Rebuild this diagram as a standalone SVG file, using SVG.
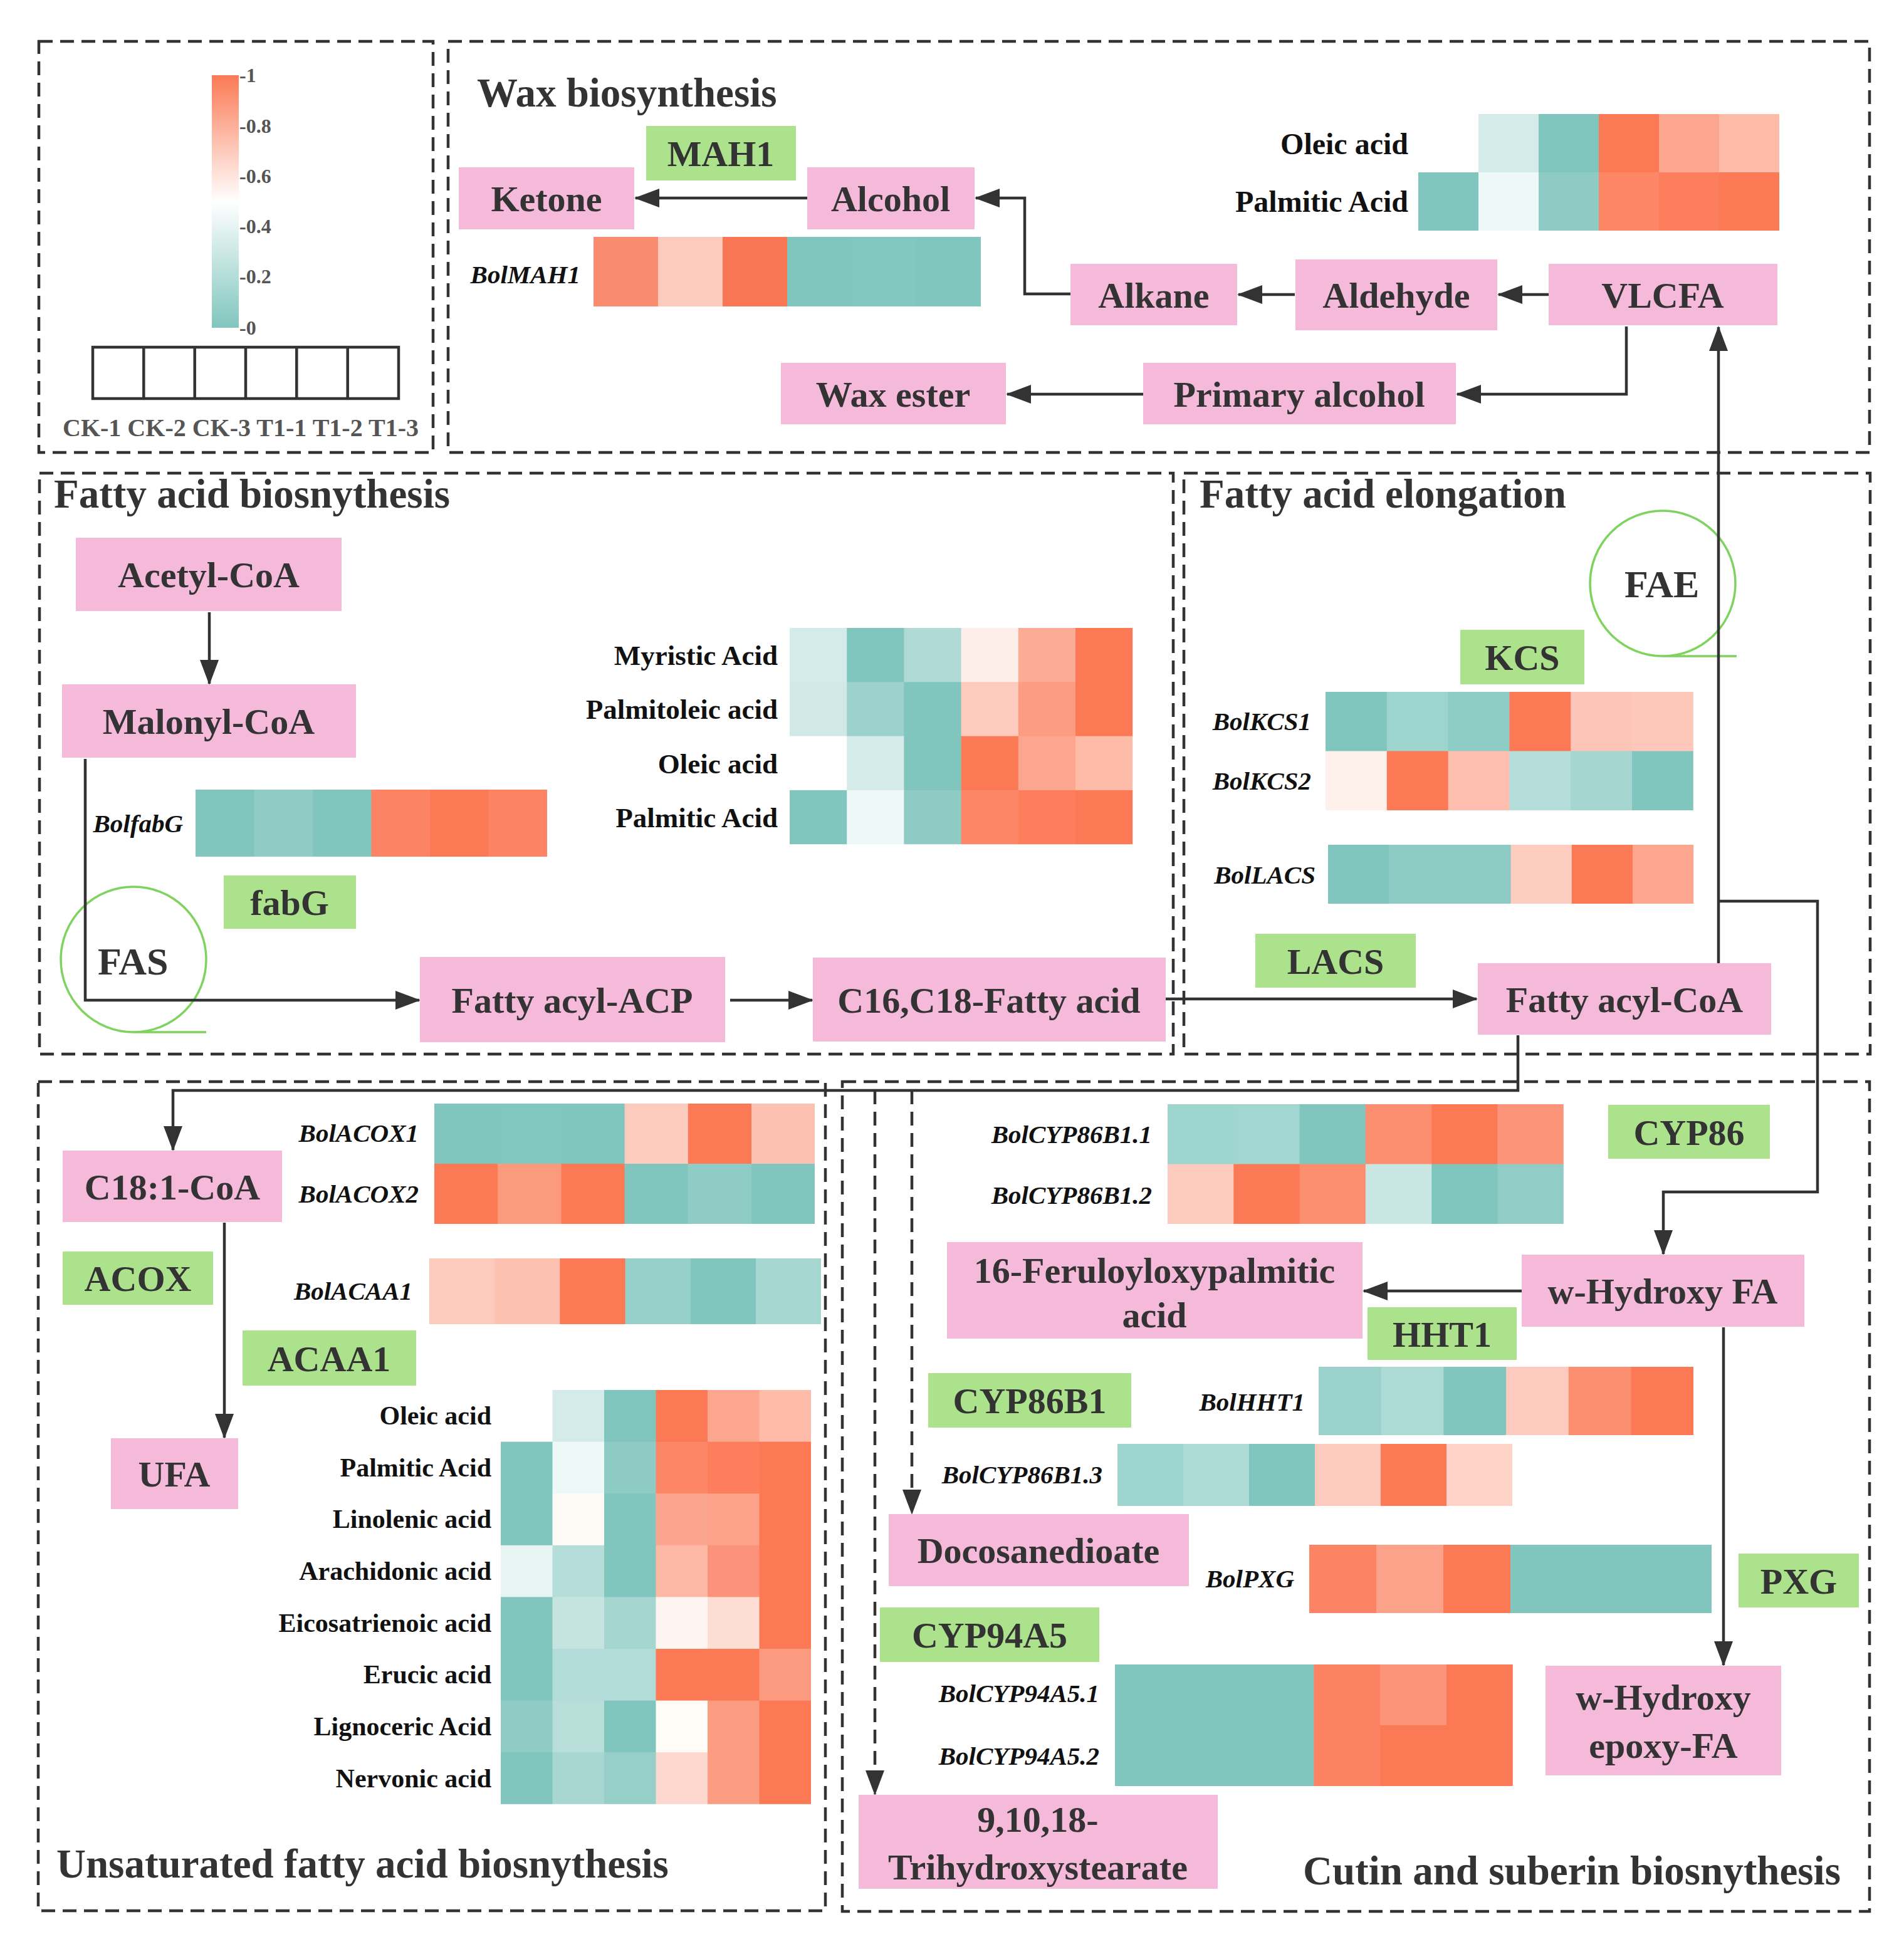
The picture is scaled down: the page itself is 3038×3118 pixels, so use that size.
<svg xmlns="http://www.w3.org/2000/svg" width="3038" height="3118" viewBox="0 0 3038 3118">
<defs>
<linearGradient id="grad" x1="0" y1="0" x2="0" y2="1">
<stop offset="0" stop-color="#FB7A55"/>
<stop offset="0.5" stop-color="#FFFFFF"/>
<stop offset="1" stop-color="#80C6BE"/>
</linearGradient>
<marker id="ah" viewBox="0 0 40 30" refX="38" refY="15" markerWidth="40" markerHeight="30" markerUnits="userSpaceOnUse" orient="auto">
<path d="M0,0 L40,15 L0,30 z" fill="#333"/>
</marker>
<style>
.nd{fill:#F5B9DA}
.gn{fill:#ADE28D}
.t{font-family:"Liberation Serif","Times New Roman",serif;font-weight:bold;font-size:58px;fill:#333;text-anchor:middle}
.cx{font-family:"Liberation Serif","Times New Roman",serif;font-weight:bold;font-size:62px;fill:#333;text-anchor:start}
.ttl{font-family:"Liberation Serif","Times New Roman",serif;font-weight:bold;font-size:65px;fill:#333}
.gl{font-family:"Liberation Serif","Times New Roman",serif;font-style:italic;font-weight:bold;font-size:41px;fill:#111;text-anchor:end}
.ml{font-family:"Liberation Serif","Times New Roman",serif;font-weight:bold;fill:#111;text-anchor:end}
.lg{font-family:"Liberation Serif","Times New Roman",serif;font-weight:bold;fill:#555}
.box{fill:none;stroke:#333;stroke-width:4.5;stroke-dasharray:22 12}
.c{fill:none;stroke:#333;stroke-width:4.5}
.cd{fill:none;stroke:#333;stroke-width:4.5;stroke-dasharray:22 12}
.ring{fill:none;stroke:#7ED35E;stroke-width:3.5}
.a{fill:#80C6BE}
.o{fill:#FB7A55}
</style>
</defs>
<rect width="3038" height="3118" fill="#FFFFFF"/>

<!-- pathway boxes -->
<g id="panels">
<rect class="box" x="62" y="66" width="629" height="656"/>
<rect class="box" x="715" y="66" width="2268" height="656"/>
<rect class="box" x="63" y="755" width="1809" height="927"/>
<rect class="box" x="1889" y="755" width="1095" height="927"/>
<rect class="box" x="61" y="1726" width="1256" height="1323"/>
<rect class="box" x="1344" y="1726" width="1639" height="1324"/>
</g>

<g id="titles">
<text class="ttl" x="761" y="170">Wax biosynthesis</text>
<text class="ttl" x="86" y="810">Fatty acid biosnythesis</text>
<text class="ttl" x="1914" y="810">Fatty acid elongation</text>
<text class="ttl" x="90" y="2996">Unsaturated fatty acid biosnythesis</text>
<text class="ttl" x="2079" y="3007">Cutin and suberin biosnythesis</text>
</g>

<!-- legend -->
<g id="legend">
<rect x="338" y="120" width="43" height="403" fill="url(#grad)"/>
<text class="lg" font-size="32" x="382" y="131">-1</text>
<text class="lg" font-size="32" x="382" y="212">-0.8</text>
<text class="lg" font-size="32" x="382" y="292">-0.6</text>
<text class="lg" font-size="32" x="382" y="372">-0.4</text>
<text class="lg" font-size="32" x="382" y="452">-0.2</text>
<text class="lg" font-size="32" x="382" y="534">-0</text>
<g fill="none" stroke="#333" stroke-width="4.5">
<rect x="148" y="554" width="488" height="82"/>
<line x1="229.3" y1="554" x2="229.3" y2="636"/>
<line x1="310.7" y1="554" x2="310.7" y2="636"/>
<line x1="392" y1="554" x2="392" y2="636"/>
<line x1="473.3" y1="554" x2="473.3" y2="636"/>
<line x1="554.7" y1="554" x2="554.7" y2="636"/>
</g>
<text class="lg" font-size="40" x="384" y="696" text-anchor="middle" textLength="568" lengthAdjust="spacingAndGlyphs">CK-1 CK-2 CK-3 T1-1 T1-2 T1-3</text>
</g>

<!-- heatmaps -->
<g id="hm-wax" transform="translate(2263,182)">
<rect x="0" y="0" width="97" height="94" fill="#FFFFFF"/>
<rect x="96" y="0" width="97" height="94" fill="#D5EBE9"/>
<rect x="192" y="0" width="97" height="94" class="a"/>
<rect x="288" y="0" width="97" height="94" class="o"/>
<rect x="384" y="0" width="97" height="94" fill="#FCA68F"/>
<rect x="480" y="0" width="96" height="94" fill="#FDBBA8"/>
<rect x="0" y="93" width="97" height="93" class="a"/>
<rect x="96" y="93" width="97" height="93" fill="#EEF8F7"/>
<rect x="192" y="93" width="97" height="93" fill="#8DCBC4"/>
<rect x="288" y="93" width="97" height="93" fill="#FC8665"/>
<rect x="384" y="93" width="97" height="93" fill="#FC7E5D"/>
<rect x="480" y="93" width="96" height="93" class="o"/>
</g>
<text class="ml" font-size="48" x="2247" y="246">Oleic acid</text>
<text class="ml" font-size="48" x="2247" y="338">Palmitic Acid</text>

<g id="hm-mah1" transform="translate(947,378)">
<rect x="0" y="0" width="104" height="111" fill="#F98B6F"/>
<rect x="103" y="0" width="104" height="111" fill="#FDCABE"/>
<rect x="206" y="0" width="104" height="111" fill="#F97654"/>
<rect x="309" y="0" width="104" height="111" class="a"/>
<rect x="412" y="0" width="104" height="111" fill="#82C8C0"/>
<rect x="515" y="0" width="103" height="111" class="a"/>
</g>
<text class="gl" x="926" y="452">BolMAH1</text>

<g id="hm-fabg" transform="translate(312,1260)">
<rect x="0" y="0" width="94" height="107" class="a"/>
<rect x="93.5" y="0" width="94" height="107" fill="#8FCCC5"/>
<rect x="187" y="0" width="94" height="107" class="a"/>
<rect x="280.5" y="0" width="94" height="107" fill="#FC8465"/>
<rect x="374" y="0" width="94" height="107" class="o"/>
<rect x="467.5" y="0" width="93.5" height="107" fill="#FC8465"/>
</g>
<text class="gl" x="292" y="1328">BolfabG</text>

<g id="hm-fa" transform="translate(1260,1002)">
<rect x="0" y="0" width="92" height="87" fill="#D5EBE9"/>
<rect x="91.2" y="0" width="92" height="87" class="a"/>
<rect x="182.4" y="0" width="92" height="87" fill="#B0DAD5"/>
<rect x="273.6" y="0" width="92" height="87" fill="#FEEEE9"/>
<rect x="364.8" y="0" width="92" height="87" fill="#FCAB95"/>
<rect x="456" y="0" width="91.2" height="87" class="o"/>
<rect x="0" y="86.3" width="92" height="87" fill="#D0E9E6"/>
<rect x="91.2" y="86.3" width="92" height="87" fill="#9DD1CB"/>
<rect x="182.4" y="86.3" width="92" height="87" class="a"/>
<rect x="273.6" y="86.3" width="92" height="87" fill="#FDCBBE"/>
<rect x="364.8" y="86.3" width="92" height="87" fill="#FC9C80"/>
<rect x="456" y="86.3" width="91.2" height="87" class="o"/>
<rect x="0" y="172.6" width="92" height="87" fill="#FFFFFF"/>
<rect x="91.2" y="172.6" width="92" height="87" fill="#D5EBE9"/>
<rect x="182.4" y="172.6" width="92" height="87" class="a"/>
<rect x="273.6" y="172.6" width="92" height="87" class="o"/>
<rect x="364.8" y="172.6" width="92" height="87" fill="#FCA68F"/>
<rect x="456" y="172.6" width="91.2" height="87" fill="#FDBBA8"/>
<rect x="0" y="258.9" width="92" height="86.3" class="a"/>
<rect x="91.2" y="258.9" width="92" height="86.3" fill="#EEF8F7"/>
<rect x="182.4" y="258.9" width="92" height="86.3" fill="#8DCBC4"/>
<rect x="273.6" y="258.9" width="92" height="86.3" fill="#FC8665"/>
<rect x="364.8" y="258.9" width="92" height="86.3" fill="#FC7E5D"/>
<rect x="456" y="258.9" width="91.2" height="86.3" class="o"/>
</g>
<text class="ml" font-size="45" x="1241" y="1061">Myristic Acid</text>
<text class="ml" font-size="45" x="1241" y="1147">Palmitoleic acid</text>
<text class="ml" font-size="45" x="1241" y="1234">Oleic acid</text>
<text class="ml" font-size="45" x="1241" y="1320">Palmitic Acid</text>

<g id="hm-kcs" transform="translate(2115,1104)">
<rect x="0" y="0" width="98.5" height="95" class="a"/>
<rect x="97.8" y="0" width="98.5" height="95" fill="#9DD4CD"/>
<rect x="195.6" y="0" width="98.5" height="95" fill="#8ECDC6"/>
<rect x="293.4" y="0" width="98.5" height="95" class="o"/>
<rect x="391.2" y="0" width="98.5" height="95" fill="#FDC5B7"/>
<rect x="489" y="0" width="97.8" height="95" fill="#FDC8BA"/>
<rect x="0" y="94.5" width="98.5" height="94.5" fill="#FEF0EB"/>
<rect x="97.8" y="94.5" width="98.5" height="94.5" class="o"/>
<rect x="195.6" y="94.5" width="98.5" height="94.5" fill="#FDBEAF"/>
<rect x="293.4" y="94.5" width="98.5" height="94.5" fill="#B5DDD9"/>
<rect x="391.2" y="94.5" width="98.5" height="94.5" fill="#A5D6D0"/>
<rect x="489" y="94.5" width="97.8" height="94.5" class="a"/>
</g>
<text class="gl" x="2092" y="1165">BolKCS1</text>
<text class="gl" x="2092" y="1260">BolKCS2</text>

<g id="hm-lacs" transform="translate(2119,1348)">
<rect x="0" y="0" width="98" height="94" class="a"/>
<rect x="97.2" y="0" width="98" height="94" fill="#8CCBC4"/>
<rect x="194.4" y="0" width="98" height="94" fill="#8CCBC4"/>
<rect x="291.6" y="0" width="98" height="94" fill="#FDCDC0"/>
<rect x="388.8" y="0" width="98" height="94" class="o"/>
<rect x="486" y="0" width="97.2" height="94" fill="#FCA690"/>
</g>
<text class="gl" x="2099" y="1410">BolLACS</text>

<g id="hm-acox" transform="translate(693,1761)">
<rect x="0" y="0" width="102" height="96.5" class="a"/>
<rect x="101.2" y="0" width="102" height="96.5" fill="#82C7BF"/>
<rect x="202.4" y="0" width="102" height="96.5" class="a"/>
<rect x="303.6" y="0" width="102" height="96.5" fill="#FDCBBE"/>
<rect x="404.8" y="0" width="102" height="96.5" class="o"/>
<rect x="506" y="0" width="101" height="96.5" fill="#FDC1B1"/>
<rect x="0" y="96" width="102" height="96" class="o"/>
<rect x="101.2" y="96" width="102" height="96" fill="#FC9A7E"/>
<rect x="202.4" y="96" width="102" height="96" class="o"/>
<rect x="303.6" y="96" width="102" height="96" class="a"/>
<rect x="404.8" y="96" width="102" height="96" fill="#8ECCC5"/>
<rect x="506" y="96" width="101" height="96" class="a"/>
</g>
<text class="gl" x="668" y="1822">BolACOX1</text>
<text class="gl" x="668" y="1919">BolACOX2</text>

<g id="hm-acaa1" transform="translate(685,2008)">
<rect x="0" y="0" width="105" height="105" fill="#FDCBBE"/>
<rect x="104.2" y="0" width="105" height="105" fill="#FDC1B1"/>
<rect x="208.4" y="0" width="105" height="105" class="o"/>
<rect x="312.6" y="0" width="105" height="105" fill="#97CFC9"/>
<rect x="416.8" y="0" width="105" height="105" class="a"/>
<rect x="521" y="0" width="104" height="105" fill="#A7D7D1"/>
</g>
<text class="gl" x="658" y="2074">BolACAA1</text>

<g id="hm-ufa" transform="translate(799,2218)">
<rect x="0" y="0" width="83.3" height="83.4" fill="#FFFFFF"/>
<rect x="82.5" y="0" width="83.3" height="83.4" fill="#D5EBE9"/>
<rect x="165" y="0" width="83.3" height="83.4" class="a"/>
<rect x="247.5" y="0" width="83.3" height="83.4" class="o"/>
<rect x="330" y="0" width="83.3" height="83.4" fill="#FCA68F"/>
<rect x="412.5" y="0" width="82.5" height="83.4" fill="#FDBBA8"/>
<rect x="0" y="82.6" width="83.3" height="83.4" class="a"/>
<rect x="82.5" y="82.6" width="83.3" height="83.4" fill="#EEF8F7"/>
<rect x="165" y="82.6" width="83.3" height="83.4" fill="#8DCBC4"/>
<rect x="247.5" y="82.6" width="83.3" height="83.4" fill="#FC8665"/>
<rect x="330" y="82.6" width="83.3" height="83.4" fill="#FC7E5D"/>
<rect x="412.5" y="82.6" width="82.5" height="83.4" class="o"/>
<rect x="0" y="165.2" width="83.3" height="83.4" class="a"/>
<rect x="82.5" y="165.2" width="83.3" height="83.4" fill="#FEFBF6"/>
<rect x="165" y="165.2" width="83.3" height="83.4" class="a"/>
<rect x="247.5" y="165.2" width="83.3" height="83.4" fill="#FCA58E"/>
<rect x="330" y="165.2" width="83.3" height="83.4" fill="#FCA28B"/>
<rect x="412.5" y="165.2" width="82.5" height="83.4" class="o"/>
<rect x="0" y="247.8" width="83.3" height="83.4" fill="#E6F4F2"/>
<rect x="82.5" y="247.8" width="83.3" height="83.4" fill="#B5DDD9"/>
<rect x="165" y="247.8" width="83.3" height="83.4" class="a"/>
<rect x="247.5" y="247.8" width="83.3" height="83.4" fill="#FDB8A6"/>
<rect x="330" y="247.8" width="83.3" height="83.4" fill="#FC9279"/>
<rect x="412.5" y="247.8" width="82.5" height="83.4" class="o"/>
<rect x="0" y="330.4" width="83.3" height="83.4" class="a"/>
<rect x="82.5" y="330.4" width="83.3" height="83.4" fill="#C5E4E0"/>
<rect x="165" y="330.4" width="83.3" height="83.4" fill="#A5D6D0"/>
<rect x="247.5" y="330.4" width="83.3" height="83.4" fill="#FEF5F1"/>
<rect x="330" y="330.4" width="83.3" height="83.4" fill="#FDDDD4"/>
<rect x="412.5" y="330.4" width="82.5" height="83.4" class="o"/>
<rect x="0" y="413" width="83.3" height="83.4" class="a"/>
<rect x="82.5" y="413" width="83.3" height="83.4" fill="#B2DCD7"/>
<rect x="165" y="413" width="83.3" height="83.4" fill="#B2DCD7"/>
<rect x="247.5" y="413" width="83.3" height="83.4" class="o"/>
<rect x="330" y="413" width="83.3" height="83.4" class="o"/>
<rect x="412.5" y="413" width="82.5" height="83.4" fill="#FC9A7F"/>
<rect x="0" y="495.6" width="83.3" height="83.4" fill="#8FCCC5"/>
<rect x="82.5" y="495.6" width="83.3" height="83.4" fill="#B8DEDA"/>
<rect x="165" y="495.6" width="83.3" height="83.4" class="a"/>
<rect x="247.5" y="495.6" width="83.3" height="83.4" fill="#FFFBF7"/>
<rect x="330" y="495.6" width="83.3" height="83.4" fill="#FC9C81"/>
<rect x="412.5" y="495.6" width="82.5" height="83.4" class="o"/>
<rect x="0" y="578.2" width="83.3" height="82.6" class="a"/>
<rect x="82.5" y="578.2" width="83.3" height="82.6" fill="#A8D7D2"/>
<rect x="165" y="578.2" width="83.3" height="82.6" fill="#96CFC8"/>
<rect x="247.5" y="578.2" width="83.3" height="82.6" fill="#FDD8CE"/>
<rect x="330" y="578.2" width="83.3" height="82.6" fill="#FC9C81"/>
<rect x="412.5" y="578.2" width="82.5" height="82.6" class="o"/>
</g>
<g id="ufa-labels">
<text class="ml" font-size="42" x="784" y="2273">Oleic acid</text>
<text class="ml" font-size="42" x="784" y="2356">Palmitic Acid</text>
<text class="ml" font-size="42" x="784" y="2438">Linolenic acid</text>
<text class="ml" font-size="42" x="784" y="2521">Arachidonic acid</text>
<text class="ml" font-size="42" x="784" y="2604">Eicosatrienoic acid</text>
<text class="ml" font-size="42" x="784" y="2686">Erucic acid</text>
<text class="ml" font-size="42" x="784" y="2769">Lignoceric Acid</text>
<text class="ml" font-size="42" x="784" y="2852">Nervonic acid</text>
</g>

<g id="hm-cyp86b1" transform="translate(1863,1762)">
<rect x="0" y="0" width="106" height="96" fill="#9DD4CD"/>
<rect x="105.3" y="0" width="106" height="96" fill="#A2D6D0"/>
<rect x="210.6" y="0" width="106" height="96" class="a"/>
<rect x="315.9" y="0" width="106" height="96" fill="#FC8E70"/>
<rect x="421.2" y="0" width="106" height="96" class="o"/>
<rect x="526.5" y="0" width="105.3" height="96" fill="#FC9479"/>
<rect x="0" y="95.5" width="106" height="95.5" fill="#FDCBBE"/>
<rect x="105.3" y="95.5" width="106" height="95.5" class="o"/>
<rect x="210.6" y="95.5" width="106" height="95.5" fill="#FC8E70"/>
<rect x="315.9" y="95.5" width="106" height="95.5" fill="#C9E6E2"/>
<rect x="421.2" y="95.5" width="106" height="95.5" class="a"/>
<rect x="526.5" y="95.5" width="105.3" height="95.5" fill="#91CDC6"/>
</g>
<text class="gl" x="1838" y="1824">BolCYP86B1.1</text>
<text class="gl" x="1838" y="1921">BolCYP86B1.2</text>

<g id="hm-hht1" transform="translate(2104,2181)">
<rect x="0" y="0" width="100.5" height="109" fill="#9AD2CB"/>
<rect x="99.7" y="0" width="100.5" height="109" fill="#ADDAD5"/>
<rect x="199.4" y="0" width="100.5" height="109" class="a"/>
<rect x="299.1" y="0" width="100.5" height="109" fill="#FDCBBE"/>
<rect x="398.8" y="0" width="100.5" height="109" fill="#FC8E70"/>
<rect x="498.5" y="0" width="99.5" height="109" class="o"/>
</g>
<text class="gl" x="2082" y="2251">BolHHT1</text>

<g id="hm-cyp86b13" transform="translate(1783,2304)">
<rect x="0" y="0" width="105.8" height="99" fill="#9DD4CD"/>
<rect x="105" y="0" width="105.8" height="99" fill="#ADDAD5"/>
<rect x="210" y="0" width="105.8" height="99" class="a"/>
<rect x="315" y="0" width="105.8" height="99" fill="#FDCBBE"/>
<rect x="420" y="0" width="105.8" height="99" class="o"/>
<rect x="525" y="0" width="105" height="99" fill="#FDD3C8"/>
</g>
<text class="gl" x="1759" y="2367">BolCYP86B1.3</text>

<g id="hm-pxg" transform="translate(2089,2465)">
<rect x="0" y="0" width="107.8" height="109" fill="#FC8465"/>
<rect x="107" y="0" width="107.8" height="109" fill="#FCA28B"/>
<rect x="214" y="0" width="107.8" height="109" class="o"/>
<rect x="321" y="0" width="321" height="109" class="a"/>
</g>
<text class="gl" x="2065" y="2533">BolPXG</text>

<g id="hm-cyp94a5" transform="translate(1779,2656)">
<rect x="0" y="0" width="318" height="194" class="a"/>
<rect x="317.4" y="0" width="106.6" height="194" fill="#FC8262"/>
<rect x="423.2" y="0" width="106.6" height="97.5" fill="#FC9479"/>
<rect x="423.2" y="97" width="106.6" height="97" class="o"/>
<rect x="529" y="0" width="105.8" height="194" class="o"/>
</g>
<text class="gl" x="1754" y="2716">BolCYP94A5.1</text>
<text class="gl" x="1754" y="2816">BolCYP94A5.2</text>

<!-- enzyme complexes -->
<g id="FAS">
<path class="ring" d="M329,1647 H213 A116,116 0 0 1 97,1531 A116,116 0 0 1 329,1531 A116,116 0 0 1 213,1647"/>
<text class="cx" x="156" y="1555">FAS</text>
</g>
<g id="FAE">
<path class="ring" d="M2771,1047 H2653 A116,116 0 0 1 2537,931 A116,116 0 0 1 2769,931 A116,116 0 0 1 2653,1047"/>
<text class="cx" x="2592" y="953">FAE</text>
</g>

<!-- connectors -->
<g id="connectors">
<path class="c" d="M1288,316 H1014" marker-end="url(#ah)"/>
<path class="c" d="M1708,469 H1635 V316 H1557" marker-end="url(#ah)"/>
<path class="c" d="M2066,470 H1976" marker-end="url(#ah)"/>
<path class="c" d="M2471,470 H2391" marker-end="url(#ah)"/>
<path class="c" d="M2595,521 V629 H2325" marker-end="url(#ah)"/>
<path class="c" d="M1824,629 H1607" marker-end="url(#ah)"/>
<path class="c" d="M2742,1537 V522" marker-end="url(#ah)"/>
<path class="c" d="M2742,1438 H2900 V1902 H2654 V2001" marker-end="url(#ah)"/>
<path class="c" d="M334,977 V1091" marker-end="url(#ah)"/>
<path class="c" d="M136,1211 V1596 H669" marker-end="url(#ah)"/>
<path class="c" d="M1165,1596 H1296" marker-end="url(#ah)"/>
<path class="c" d="M1860,1594 H2356" marker-end="url(#ah)"/>
<path class="c" d="M2422,1652 V1740 H276 V1835" marker-end="url(#ah)"/>
<path class="cd" d="M1396,1740 V2863" marker-end="url(#ah)"/>
<path class="cd" d="M1455,1740 V2415" marker-end="url(#ah)"/>
<path class="c" d="M358,1951 V2294" marker-end="url(#ah)"/>
<path class="c" d="M2428,2060 H2176" marker-end="url(#ah)"/>
<path class="c" d="M2750,2118 V2657" marker-end="url(#ah)"/>
</g>

<!-- nodes -->
<g id="n-ketone"><rect class="nd" x="732" y="267" width="280" height="99"/><text class="t" x="872" y="337">Ketone</text></g>
<g id="n-alcohol"><rect class="nd" x="1288" y="267" width="267" height="99"/><text class="t" x="1421" y="337">Alcohol</text></g>
<g id="n-alkane"><rect class="nd" x="1708" y="421" width="266" height="98"/><text class="t" x="1841" y="491">Alkane</text></g>
<g id="n-aldehyde"><rect class="nd" x="2067" y="414" width="322" height="113"/><text class="t" x="2228" y="491">Aldehyde</text></g>
<g id="n-vlcfa"><rect class="nd" x="2471" y="421" width="365" height="98"/><text class="t" x="2653" y="491">VLCFA</text></g>
<g id="n-primary-alcohol"><rect class="nd" x="1824" y="579" width="499" height="98"/><text class="t" x="2073" y="649">Primary alcohol</text></g>
<g id="n-wax-ester"><rect class="nd" x="1246" y="579" width="359" height="98"/><text class="t" x="1425" y="649">Wax ester</text></g>
<g id="g-mah1"><rect class="gn" x="1031" y="201" width="239" height="87"/><text class="t" x="1150" y="265">MAH1</text></g>

<g id="n-acetyl-coa"><rect class="nd" x="121" y="858" width="424" height="117"/><text class="t" x="333" y="937">Acetyl-CoA</text></g>
<g id="n-malonyl-coa"><rect class="nd" x="99" y="1092" width="469" height="117"/><text class="t" x="333" y="1171">Malonyl-CoA</text></g>
<g id="g-fabg"><rect class="gn" x="357" y="1397" width="211" height="85"/><text class="t" x="462" y="1460">fabG</text></g>
<g id="n-fatty-acyl-acp"><rect class="nd" x="670" y="1527" width="487" height="136"/><text class="t" x="913" y="1616">Fatty acyl-ACP</text></g>
<g id="n-c16c18"><rect class="nd" x="1297" y="1528" width="563" height="134"/><text class="t" x="1578" y="1616">C16,C18-Fatty acid</text></g>

<g id="g-kcs"><rect class="gn" x="2330" y="1005" width="198" height="87"/><text class="t" x="2429" y="1069">KCS</text></g>
<g id="g-lacs"><rect class="gn" x="2003" y="1490" width="256" height="86"/><text class="t" x="2131" y="1554">LACS</text></g>
<g id="n-fatty-acyl-coa"><rect class="nd" x="2358" y="1537" width="468" height="114"/><text class="t" x="2592" y="1615">Fatty acyl-CoA</text></g>

<g id="n-c181-coa"><rect class="nd" x="100" y="1836" width="350" height="114"/><text class="t" x="275" y="1914">C18:1-CoA</text></g>
<g id="g-acox"><rect class="gn" x="100" y="1997" width="240" height="85"/><text class="t" x="220" y="2060">ACOX</text></g>
<g id="g-acaa1"><rect class="gn" x="387" y="2123" width="277" height="88"/><text class="t" x="525" y="2188">ACAA1</text></g>
<g id="n-ufa"><rect class="nd" x="177" y="2295" width="203" height="113"/><text class="t" x="278" y="2372">UFA</text></g>

<g id="g-cyp86"><rect class="gn" x="2566" y="1763" width="258" height="86"/><text class="t" x="2695" y="1827">CYP86</text></g>
<g id="n-feruloyl"><rect class="nd" x="1511" y="1982" width="663" height="154"/><text class="t" x="1842" y="2047">16-Feruloyloxypalmitic</text><text class="t" x="1842" y="2118">acid</text></g>
<g id="n-w-hydroxy-fa"><rect class="nd" x="2428" y="2002" width="451" height="115"/><text class="t" x="2653" y="2080">w-Hydroxy FA</text></g>
<g id="g-hht1"><rect class="gn" x="2182" y="2086" width="238" height="84"/><text class="t" x="2301" y="2149">HHT1</text></g>
<g id="g-cyp86b1"><rect class="gn" x="1481" y="2191" width="324" height="87"/><text class="t" x="1643" y="2255">CYP86B1</text></g>
<g id="n-docosanedioate"><rect class="nd" x="1418" y="2416" width="479" height="115"/><text class="t" x="1657" y="2494">Docosanedioate</text></g>
<g id="g-pxg"><rect class="gn" x="2774" y="2479" width="192" height="86"/><text class="t" x="2870" y="2543">PXG</text></g>
<g id="g-cyp94a5"><rect class="gn" x="1404" y="2565" width="350" height="87"/><text class="t" x="1579" y="2629">CYP94A5</text></g>
<g id="n-w-hydroxy-epoxy-fa"><rect class="nd" x="2466" y="2658" width="376" height="175"/><text class="t" x="2654" y="2728">w-Hydroxy</text><text class="t" x="2654" y="2805">epoxy-FA</text></g>
<g id="n-trihydroxystearate"><rect class="nd" x="1370" y="2864" width="573" height="150"/><text class="t" x="1656" y="2923">9,10,18-</text><text class="t" x="1656" y="2999">Trihydroxystearate</text></g>
</svg>
